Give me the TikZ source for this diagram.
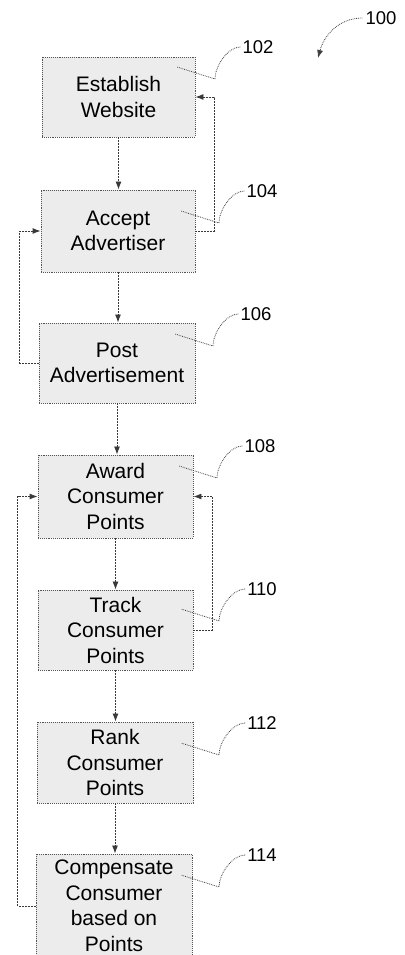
\documentclass[tikz,border=0pt]{standalone}
\usepackage{fontspec}
\setmainfont{Liberation Sans}
\usetikzlibrary{arrows.meta,calc}
\begin{document}
\begin{tikzpicture}[x=1pt,y=1pt,
  stepbox/.style={draw=gray!65!black, densely dotted, line width=0.9pt, fill=gray!15,
    inner sep=0pt, align=center, font=\fontsize{21}{25.5}\selectfont, text=black},
  conn/.style={draw=gray!45!black, line width=0.9pt, dash pattern=on 2pt off 1pt,
    -{Latex[length=8pt,width=6pt]}},
  lead/.style={draw=gray!50!black, line width=0.8pt, densely dotted},
  ref/.style={font=\fontsize{18.5}{20}\selectfont, text=black, inner sep=0pt}]
\useasboundingbox (0,0) rectangle (404,955);
\fill[white] (0,0) rectangle (404,955);
% steps
\node[stepbox, minimum width=153pt, minimum height=80pt] (s102) at (118.5,858) {Establish\\Website};
\node[stepbox, minimum width=154pt, minimum height=82pt] (s104) at (118,724) {Accept\\Advertiser};
\node[stepbox, minimum width=156pt, minimum height=80pt] (s106) at (117,592) {Post\\Advertisement};
\node[stepbox, minimum width=155pt, minimum height=83pt] (s108) at (115.5,458.5) {Award\\Consumer\\Points};
\node[stepbox, minimum width=155pt, minimum height=80pt] (s110) at (115.5,325) {Track\\Consumer\\Points};
\node[stepbox, minimum width=156pt, minimum height=81pt] (s112) at (115,192.5) {Rank\\Consumer\\Points};
\node[stepbox, minimum width=156pt, minimum height=104pt] (s114) at (114,49) {Compensate\\Consumer\\based on\\Points};
% main flow
\draw[conn] (s102.south) -- (s102.south |- s104.north);
\draw[conn] (s104.south) -- (s104.south |- s106.north);
\draw[conn] (s106.south) -- (s106.south |- s108.north);
\draw[conn] (s108.south) -- (s108.south |- s110.north);
\draw[conn] (s110.south) -- (s110.south |- s112.north);
\draw[conn] (s112.south) -- (s112.south |- s114.north);
% feedback loops
\draw[conn] (s104.east) -- ++(19,0) |- (s102.east);
\draw[conn] (s106.west) -- ++(-19,0) |- (s104.west);
\draw[conn] (s110.east) -- ++(19,0) |- (s108.east);
\draw[conn] (s114.west) -- ++(-18,0) |- (s108.west);
% reference numerals
\node[ref] (l100) at (381,937) {100};
\node[ref] (l102) at (258,908) {102};
\node[ref] (l104) at (262,764) {104};
\node[ref] (l106) at (256,641) {106};
\node[ref] (l108) at (260,509) {108};
\node[ref] (l110) at (262,366) {110};
\node[ref] (l112) at (262,232) {112};
\node[ref] (l114) at (262,100) {114};
\coordinate (t100) at (318,897);
\draw[lead, -{Latex[length=8pt,width=6pt]}] ([xshift=-3pt]l100.west) to[out=180,in=75] (t100);
\foreach \n in {102,104,106,108,110,112,114}{
  \draw[lead] ([xshift=-2pt]l\n.west) to[out=180,in=90,looseness=0.8] ($(l\n)+(-43,-32)$) -- ($(l\n)+(-81,-20)$);
}
\end{tikzpicture}
\end{document}
